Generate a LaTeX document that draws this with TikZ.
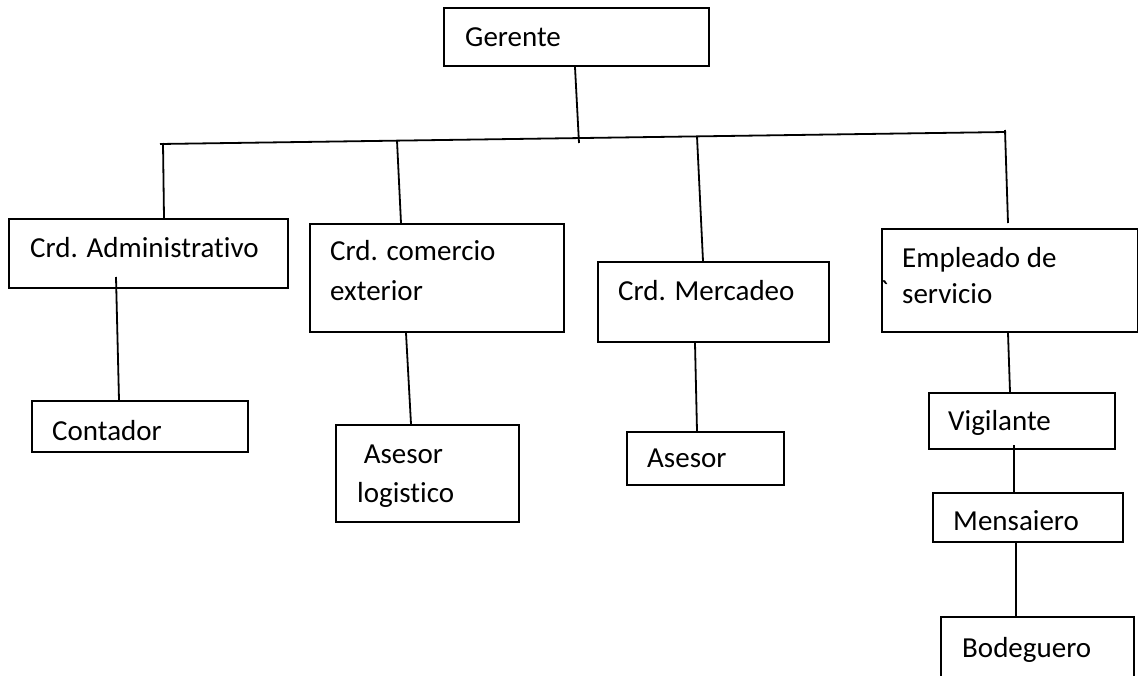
\documentclass[tikz,border=0pt]{standalone}
\usepackage{fontspec}
\setmainfont{Carlito}[Ligatures={TeX,NoCommon}]
\newfontfamily\crudo{Carlito}
\usetikzlibrary{calc}

\begin{document}
\begin{tikzpicture}[x=1pt, y=-1pt,
    box/.style={draw, line width=2pt, anchor=north west, inner sep=0pt},
    txt/.style={anchor=base west, inner sep=0pt, align=left, font=\fontsize{29}{40}\selectfont},
    linea/.style={line width=1.8pt}]
    \useasboundingbox (0,0) rectangle (1138,675);
    \node[box, minimum width=265, minimum height=58] (ger) at (443,7) {};
    \node[box, minimum width=279, minimum height=69] (adm) at (8,218) {};
    \node[box, minimum width=254, minimum height=108] (com) at (309,223) {};
    \node[box, minimum width=231, minimum height=80] (mer) at (597,261) {};
    \node[box, minimum width=256, minimum height=103] (emp) at (881,228) {};
    \node[box, minimum width=216, minimum height=51] (cont) at (31,400) {};
    \node[box, minimum width=183, minimum height=97] (alog) at (335,424) {};
    \node[box, minimum width=157, minimum height=53] (ase) at (626,431) {};
    \node[box, minimum width=186, minimum height=56] (vig) at (928,392) {};
    \node[box, minimum width=190, minimum height=49] (men) at (932,492) {};
    \node[box, minimum width=193, minimum height=90] (bod) at (940,616) {};
    \node[txt] (ger-t) at ($(ger.north west)+(22,39)$) {Gerente};
    \node[txt] (adm-t) at ($(adm.north west)+(22,39)$) {Crd. Administrativo};
    \node[txt] (com-t) at ($(com.north west)+(21,77)$) {Crd. comercio\\exterior};
    \node[txt] (mer-t) at ($(mer.north west)+(21,39)$) {Crd. Mercadeo};
    \node[txt, font=\fontsize{29}{36}\selectfont] (emp-t) at ($(emp.north west)+(21,75)$) {Empleado de\\servicio};
    \node[txt] (cont-t) at ($(cont.north west)+(21,40)$) {Contador};
    \node[txt, font=\fontsize{29}{39}\selectfont] (alog-t) at ($(alog.north west)+(22,78)$) {\ Asesor\\logistico};
    \node[txt] (ase-t) at ($(ase.north west)+(21,36)$) {Asesor};
    \node[txt] (vig-t) at ($(vig.north west)+(20,38)$) {Vigilante};
    \node[txt] (men-t) at ($(men.north west)+(21,38)$) {Mensaiero};
    \node[txt] (bod-t) at ($(bod.north west)+(22,41)$) {Bodeguero};
    \node[txt, font=\crudo\fontsize{29}{29}\selectfont] (marca) at (880,300) {\char96};
    \coordinate (b0) at (160,144);
    \coordinate (b1) at (163,143);
    \coordinate (b2) at (397,140.6);
    \coordinate (b3) at (697,136.4);
    \coordinate (b4) at (1006,132);
    \coordinate (g0) at (579,143);
    \draw[linea] (b0) -- (b4);
    \draw[linea] ($(ger.south west)+(132,0)$) -- (g0);
    \draw[linea] (b1) -- ($(adm.north west)+(156,0)$);
    \draw[linea] (b2) -- ($(com.north west)+(92,0)$);
    \draw[linea] (b3) -- ($(mer.north west)+(106,0)$);
    \draw[linea] ($(b4)+(-1,-2)$) -- ($(emp.north west)+(127,-5)$);
    \draw[linea] ($(adm.south west)+(108,-12)$) -- ($(cont.north west)+(88,0)$);
    \draw[linea] ($(com.south west)+(97,0)$) -- ($(alog.north west)+(76,0)$);
    \draw[linea] ($(mer.south west)+(98,0)$) -- ($(ase.north west)+(71,0)$);
    \draw[linea] ($(emp.south west)+(127,0)$) -- ($(vig.north west)+(82,0)$);
    \draw[linea] ($(vig.south west)+(86,-5)$) -- ($(men.north west)+(82,0)$);
    \draw[linea] ($(men.south west)+(84,0)$) -- ($(bod.north west)+(76,0)$);
\end{tikzpicture}
\end{document}
